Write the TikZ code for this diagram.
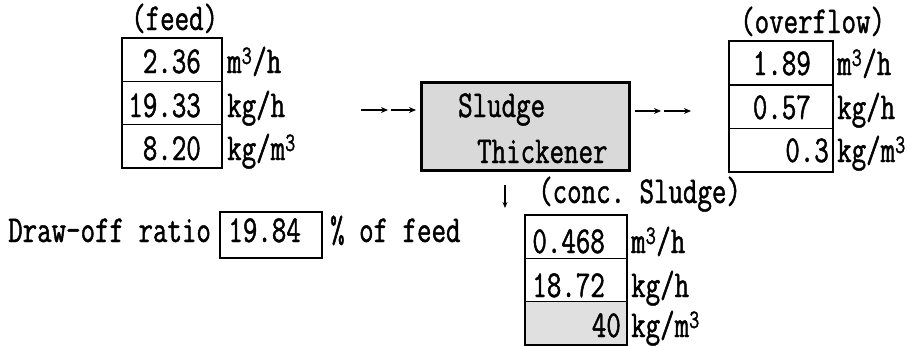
\documentclass[tikz,border=0pt]{standalone}
\usepackage{fontspec}
\setmonofont[FakeStretch=0.74,FakeBold=1.2]{Latin Modern Mono}
\usetikzlibrary{arrows.meta}
\tikzset{
  valbox/.style={draw, line width=1.4pt, inner sep=0pt, minimum width=#1, minimum height=43.4pt},
  valbox/.default=100pt,
  txt/.style={inner sep=0pt, anchor=base west},
  val/.style={inner sep=0pt, anchor=base east},
  arr/.style={line width=1.3pt, -{Stealth[length=7pt,width=6pt]}},
  shade/.style={fill=black!15}
}
\begin{document}
\begin{tikzpicture}[x=1pt,y=-1pt,font=\ttfamily\fontsize{38}{38}\selectfont]
\useasboundingbox (0,0) rectangle (917,346);
% feed
\node[txt] (feedlbl) at (131,30) {(feed)};
\node[valbox] (f1) at (172,59.7) {};
\node[valbox] (f2) at (172,103) {};
\node[valbox] (f3) at (172,146.3) {};
\node[val] (f1v) at (201,73) {2.36};
\node[val] (f2v) at (201,117) {19.33};
\node[val] (f3v) at (201,160) {8.20};
\node[txt] (f1u) at (227,73) {m\textsuperscript{3}/h};
\node[txt] (f2u) at (227,117) {kg/h};
\node[txt] (f3u) at (227,160) {kg/m\textsuperscript{3}};
% thickener
\node[draw, shade, line width=3pt, minimum width=208pt, minimum height=88pt, inner sep=0pt] (thk) at (525,126) {};
\node[txt] (thk1) at (458,117) {Sludge};
\node[txt] (thk2) at (477,163) {Thickener};
% arrows in
\coordinate (a1) at (361,110);
\coordinate (a2) at (388,110);
\coordinate (a3) at (391,110);
\coordinate (a4) at (416,110);
\draw[arr] (a1) -- (a2);
\draw[arr] (a3) -- (a4);
% arrows out
\coordinate (b1) at (635,111);
\coordinate (b2) at (661,111);
\coordinate (b3) at (664,111);
\coordinate (b4) at (691,111);
\draw[arr] (b1) -- (b2);
\draw[arr] (b3) -- (b4);
% overflow
\node[txt] (ovlbl) at (740,33) {(overflow)};
\node[valbox=104pt] (o1) at (781,62.8) {};
\node[valbox=104pt] (o2) at (781,106.5) {};
\node[valbox=104pt] (o3) at (781,150.2) {};
\node[val] (o1v) at (811,75) {1.89};
\node[val] (o2v) at (811,119) {0.57};
\node[val] (o3v) at (829,162) {0.3};
\node[txt] (o1u) at (837,75) {m\textsuperscript{3}/h};
\node[txt] (o2u) at (837,119) {kg/h};
\node[txt] (o3u) at (837,162) {kg/m\textsuperscript{3}};
% down arrow
\coordinate (d1) at (505,185);
\coordinate (d2) at (505,208);
\draw[line width=1.1pt, -{Stealth[length=6pt,width=5pt]}] (d1) -- (d2);
% conc sludge
\node[txt] (cslbl) at (538,203) {(conc. Sludge)};
\node[valbox=102pt] (c1) at (576,236.7) {};
\node[valbox=102pt] (c2) at (576,280) {};
\node[valbox=102pt, fill=black!12] (c3) at (576,323.3) {};
\node[val] (c1v) at (605,253) {0.468};
\node[val] (c2v) at (605,297) {18.72};
\node[val] (c3v) at (621,337) {40};
\node[txt] (c1u) at (631,253) {m\textsuperscript{3}/h};
\node[txt] (c2u) at (631,297) {kg/h};
\node[txt] (c3u) at (631,337) {kg/m\textsuperscript{3}};
% draw-off ratio
\node[txt] (drlbl) at (8,242) {Draw-off ratio};
\node[valbox=102pt, minimum height=46pt] (dr) at (271,235) {};
\node[val] (drv) at (301,242) {19.84};
\node[txt] (drpc) at (330,242) {\% of feed};
\end{tikzpicture}
\end{document}
